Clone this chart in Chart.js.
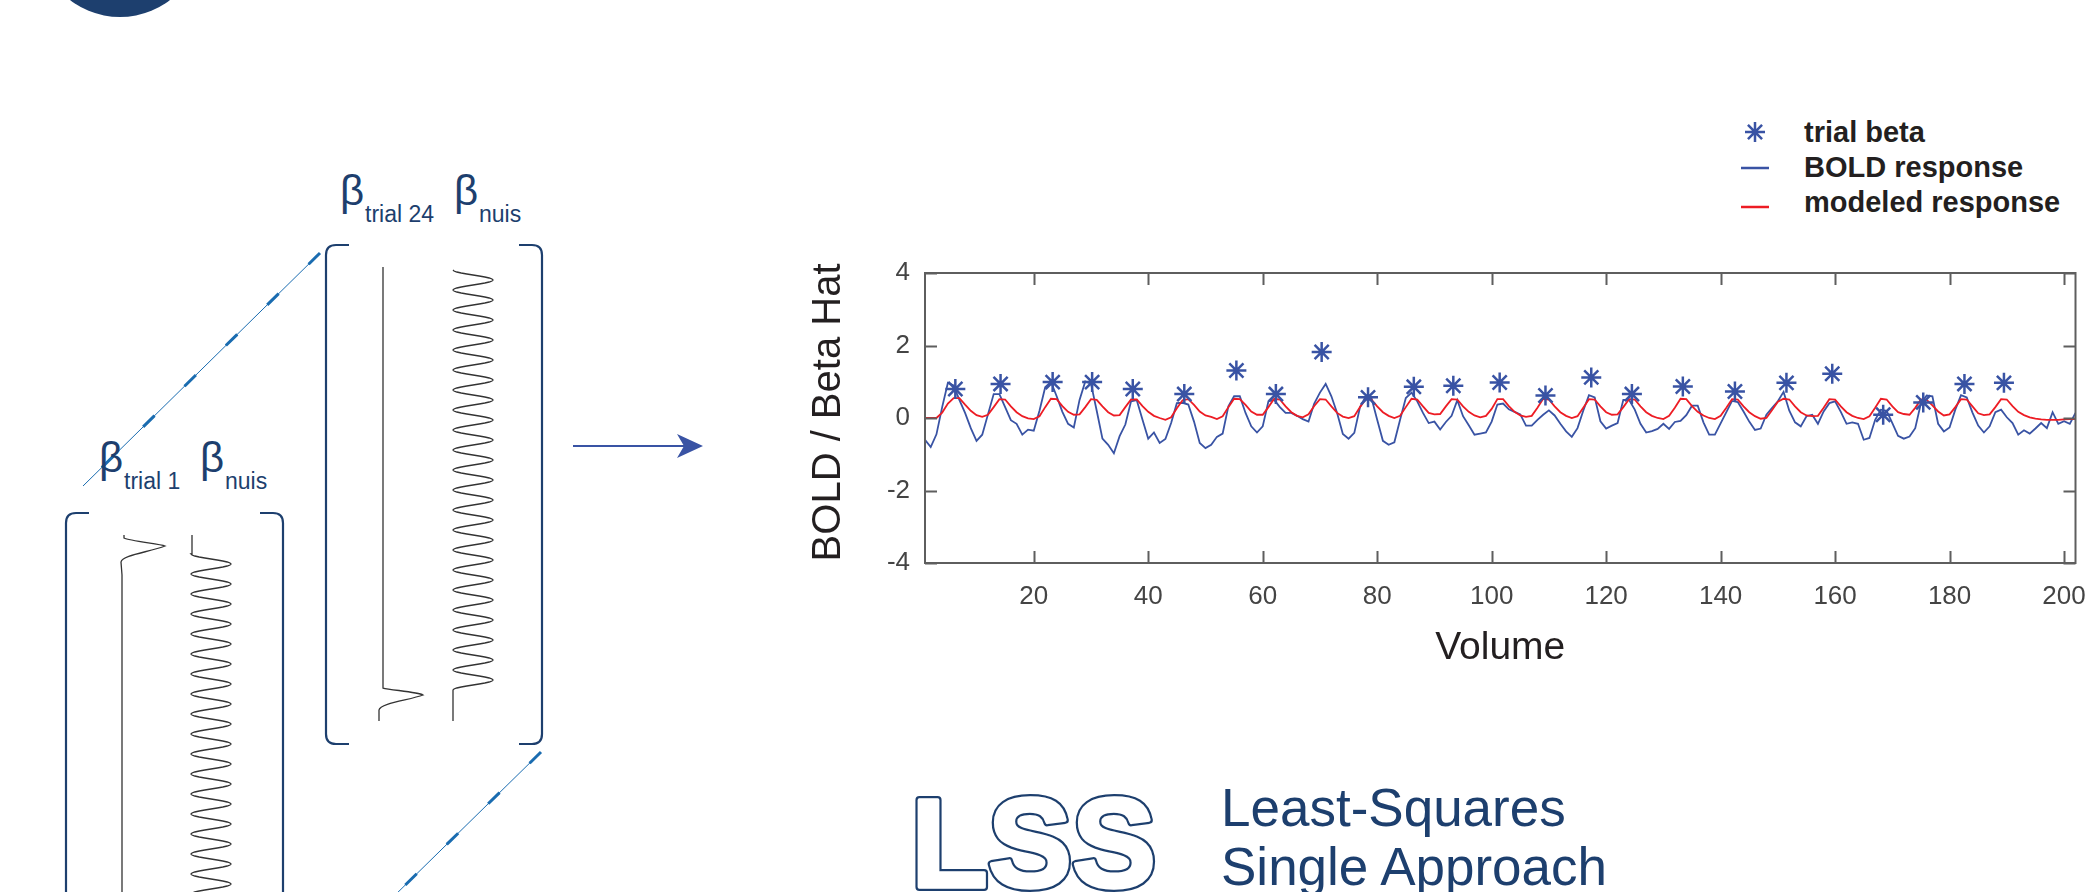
<!DOCTYPE html>
<html>
<head>
<meta charset="utf-8">
<script src="https://cdn.jsdelivr.net/npm/chart.js@4.4.1/dist/chart.umd.min.js"></script>
<style>
  html, body { margin: 0; padding: 0; background: #fff; }
  #wrap { position: relative; width: 2088px; height: 892px; overflow: hidden; }
  #deco { position: absolute; left: 0; top: 0; }
  #chart { position: absolute; left: 0; top: 0; }
</style>
</head>
<body>
<div id="wrap">
  <svg id="deco" width="2088" height="892" xmlns="http://www.w3.org/2000/svg"></svg>
  <canvas id="chart" width="2088" height="892"></canvas>
</div>
<script>
// Values
const xTicks = [20, 40, 60, 80, 100, 120, 140, 160, 180, 200];
const yTicks = [-4, -2, 0, 2, 4];

// BOLD response, one value per volume (1..202)
const boldResponse = [
  -0.60, -0.80, -0.45, 0.30, 0.97, 0.90, 0.50, 0.14, -0.28, -0.63,
  -0.46, 0.10, 0.66, 0.66, 0.30, -0.06, -0.16, -0.46, -0.32, -0.35,
  0.20, 0.85, 1.00, 0.60, 0.17, -0.16, -0.26, 0.50, 1.01, 0.95,
  0.20, -0.57, -0.74, -0.97, -0.50, -0.18, 0.46, 0.49, -0.05, -0.57,
  -0.40, -0.69, -0.58, -0.14, 0.41, 0.42, 0.37, -0.10, -0.69, -0.83,
  -0.74, -0.52, -0.43, 0.32, 0.60, 0.60, 0.14, -0.23, -0.40, -0.23,
  0.46, 0.50, 0.30, 0.14, 0.14, 0.06, -0.03, -0.10, 0.40, 0.70,
  0.94, 0.60, 0.14, -0.44, -0.57, -0.41, 0.30, 0.60, 0.55, -0.05,
  -0.63, -0.74, -0.67, -0.05, 0.55, 0.70, 0.46, 0.14, -0.14, -0.10,
  -0.32, -0.11, 0.06, 0.49, 0.05, -0.20, -0.46, -0.43, -0.40, -0.10,
  0.37, 0.40, 0.24, 0.17, 0.10, -0.21, -0.21, -0.05, 0.09, 0.21,
  0.07, -0.16, -0.37, -0.52, -0.28, 0.20, 0.63, 0.57, -0.09, -0.29,
  -0.21, -0.14, 0.50, 0.50, 0.23, -0.16, -0.40, -0.36, -0.30, -0.16,
  -0.30, -0.11, -0.08, 0.08, 0.34, 0.34, -0.12, -0.46, -0.46, -0.15,
  0.16, 0.47, 0.44, 0.18, -0.10, -0.33, -0.29, 0.09, 0.28, 0.46,
  0.72, 0.20, -0.12, -0.23, 0.05, 0.09, -0.16, 0.18, 0.41, 0.46,
  0.17, -0.16, -0.12, -0.16, -0.60, -0.55, -0.05, 0.23, 0.20, -0.14,
  -0.49, -0.57, -0.51, -0.28, 0.41, 0.62, 0.60, -0.16, -0.37, -0.26,
  0.23, 0.63, 0.57, 0.15, -0.21, -0.40, -0.23, 0.16, 0.23, 0.02,
  -0.14, -0.46, -0.34, -0.43, -0.29, -0.14, -0.28, 0.16, -0.16, -0.09,
  -0.16, 0.14
];

// modeled response, one value per volume (1..202)
const modeledResponse = [
  0.00, 0.00, 0.00, 0.15, 0.40, 0.55, 0.55, 0.37, 0.20, 0.08,
  0.03, 0.09, 0.30, 0.52, 0.51, 0.32, 0.16, 0.05, -0.01, -0.03,
  0.05, 0.30, 0.53, 0.52, 0.33, 0.17, 0.09, 0.10, 0.30, 0.52,
  0.50, 0.32, 0.16, 0.07, 0.08, 0.30, 0.51, 0.51, 0.33, 0.17,
  0.06, 0.00, -0.05, 0.02, 0.27, 0.49, 0.52, 0.36, 0.18, 0.07,
  0.03, -0.03, 0.05, 0.30, 0.53, 0.52, 0.36, 0.18, 0.09, 0.09,
  0.30, 0.53, 0.51, 0.32, 0.16, 0.06, 0.02, 0.10, 0.33, 0.52,
  0.51, 0.32, 0.14, 0.04, 0.00, 0.05, 0.30, 0.52, 0.51, 0.32,
  0.16, 0.06, 0.00, 0.06, 0.30, 0.53, 0.51, 0.32, 0.14, 0.10,
  0.11, 0.32, 0.52, 0.51, 0.32, 0.17, 0.07, 0.02, 0.06, 0.25,
  0.52, 0.52, 0.33, 0.17, 0.07, 0.03, 0.06, 0.28, 0.53, 0.51,
  0.32, 0.16, 0.06, 0.00, 0.05, 0.28, 0.52, 0.51, 0.32, 0.16,
  0.09, 0.10, 0.30, 0.52, 0.51, 0.32, 0.16, 0.06, 0.00, -0.03,
  0.06, 0.28, 0.53, 0.52, 0.33, 0.17, 0.07, 0.00, -0.03, 0.06,
  0.28, 0.52, 0.51, 0.32, 0.16, 0.05, -0.02, 0.00, 0.22, 0.45,
  0.53, 0.51, 0.32, 0.16, 0.07, 0.05, 0.06, 0.28, 0.52, 0.51,
  0.32, 0.16, 0.06, 0.00, -0.03, 0.05, 0.28, 0.53, 0.51, 0.32,
  0.16, 0.11, 0.09, 0.28, 0.51, 0.50, 0.35, 0.18, 0.07, 0.10,
  0.30, 0.52, 0.51, 0.32, 0.13, 0.08, 0.10, 0.30, 0.52, 0.51,
  0.33, 0.17, 0.08, 0.02, -0.02, -0.04, -0.05, -0.05, -0.05, -0.04,
  -0.03, -0.03
];

// trial onsets (volume) and their beta estimates
const trialVolumes = [6.3, 14.2, 23.3, 30.2, 37.3, 46.3, 55.4, 62.3, 70.3, 78.4, 86.4, 93.3,
                      101.4, 109.4, 117.4, 124.5, 133.4, 142.5, 151.5, 159.5, 168.4, 175.4, 182.6, 189.5];
const trialBetas = [0.80, 0.94, 0.99, 0.99, 0.80, 0.66, 1.31, 0.66, 1.82, 0.57, 0.86, 0.89,
                    0.98, 0.62, 1.12, 0.66, 0.87, 0.73, 0.97, 1.22, 0.09, 0.43, 0.94, 0.97];

const seriesLabels = ['trial beta', 'BOLD response', 'modeled response'];
const blue = '#3953a4';
const red = '#ed1c24';
const navy = '#1d3f6e';
const font = "'Liberation Sans', Arial, Helvetica, sans-serif";

const volumes = boldResponse.map((_, i) => i + 1);

// box and inward ticks like the original axes
const boxPlugin = {
  id: 'box',
  afterDraw(chart) {
    const ctx = chart.ctx;
    const {left, right, top, bottom} = chart.chartArea;
    const xs = chart.scales.x, ys = chart.scales.y;
    ctx.save();
    ctx.strokeStyle = '#5e5e5e';
    ctx.lineWidth = 2;
    ctx.strokeRect(left, top, right - left, bottom - top);
    ctx.beginPath();
    xTicks.forEach(v => {
      const px = Math.round(xs.getPixelForValue(v)) + 0.5;
      ctx.moveTo(px, bottom); ctx.lineTo(px, bottom - 12);
      ctx.moveTo(px, top); ctx.lineTo(px, top + 12);
    });
    yTicks.forEach(v => {
      const py = Math.round(ys.getPixelForValue(v)) + 0.5;
      ctx.moveTo(left, py); ctx.lineTo(left + 12, py);
      ctx.moveTo(right, py); ctx.lineTo(right - 12, py);
    });
    ctx.stroke();
    ctx.restore();
  }
};

const chart = new Chart(document.getElementById('chart'), {
  type: 'line',
  data: {
    datasets: [
      {
        label: seriesLabels[0],
        type: 'scatter',
        data: trialVolumes.map((v, i) => ({x: v, y: trialBetas[i]})),
        showLine: false,
        pointStyle: 'star',
        pointRadius: 10,
        pointBorderWidth: 2.5,
        borderColor: blue,
        backgroundColor: blue,
        order: 0
      },
      {
        label: seriesLabels[1],
        data: volumes.map((v, i) => ({x: v, y: boldResponse[i]})),
        borderColor: blue,
        borderWidth: 1.8,
        pointRadius: 0,
        tension: 0,
        order: 2
      },
      {
        label: seriesLabels[2],
        data: volumes.map((v, i) => ({x: v, y: modeledResponse[i]})),
        borderColor: red,
        borderWidth: 1.8,
        pointRadius: 0,
        tension: 0,
        order: 1
      }
    ]
  },
  options: {
    responsive: false,
    animation: false,
    layout: {padding: {left: 805, top: 273, right: 12, bottom: 220}},
    plugins: {legend: {display: false}, tooltip: {enabled: false}},
    scales: {
      x: {
        type: 'linear', min: 1, max: 202,
        afterBuildTicks: s => { s.ticks = xTicks.map(v => ({value: v})); },
        afterFit: s => { s.height = 109; s.paddingLeft = 0; s.paddingRight = 0; },
        grid: {display: false, drawTicks: false},
        border: {display: false},
        ticks: {color: '#444', font: {family: font, size: 26}, padding: 18, maxRotation: 0, autoSkip: false},
        title: {display: true, text: 'Volume', color: '#231f20', font: {family: font, size: 39}, padding: 0}
      },
      y: {
        type: 'linear', min: -4, max: 4,
        afterBuildTicks: s => { s.ticks = yTicks.map(v => ({value: v})); },
        afterFit: s => { s.width = 120; s.paddingTop = 0; s.paddingBottom = 0; },
        grid: {display: false, drawTicks: false},
        border: {display: false},
        ticks: {color: '#444', font: {family: font, size: 26}, padding: 15},
        title: {display: true, text: ' BOLD / Beta Hat', color: '#231f20', font: {family: font, size: 40}, padding: 0}
      }
    }
  },
  plugins: [boxPlugin]
});

// ---- diagram around the chart (svg) ----
const svg = document.getElementById('deco');
const NS = 'http://www.w3.org/2000/svg';
function add(tag, attrs, text) {
  const el = document.createElementNS(NS, tag);
  for (const k in attrs) el.setAttribute(k, attrs[k]);
  if (text !== undefined) el.textContent = text;
  svg.appendChild(el);
  return el;
}
function wave(cx, amp, y0, y1, period) {
  let d = '';
  for (let y = y0; y <= y1; y += 1) {
    const x = cx - amp * Math.cos(2 * Math.PI * (y - y0) / period);
    d += (d ? ' L' : 'M') + x.toFixed(1) + ',' + y;
  }
  return d;
}

add('circle', {cx: 120, cy: -65, r: 82, fill: navy});

// perspective lines
[[320, 253, 83, 486], [541, 752, 390, 900]].forEach(([x1, y1, x2, y2]) => {
  add('line', {x1, y1, x2, y2, stroke: '#1a6cb0', 'stroke-width': 1});
  add('line', {x1, y1, x2, y2, stroke: '#1a6cb0', 'stroke-width': 3, 'stroke-dasharray': '16 42'});
});

// brackets
const bs = {fill: 'none', stroke: navy, 'stroke-width': 2.2};
add('path', Object.assign({d: 'M349,245 L336,245 Q326,245 326,255 L326,734 Q326,744 336,744 L349,744'}, bs));
add('path', Object.assign({d: 'M519,245 L532,245 Q542,245 542,255 L542,734 Q542,744 532,744 L519,744'}, bs));
add('path', Object.assign({d: 'M89,513 L76,513 Q66,513 66,523 L66,900'}, bs));
add('path', Object.assign({d: 'M260,513 L273,513 Q283,513 283,523 L283,900'}, bs));

// regressors
const rs = {fill: 'none', stroke: '#333', 'stroke-width': 1.3};
add('path', Object.assign({d: 'M383,267 L383,688 C390,690 418,692 423,695 C410,700 380,703 379,710 L379,721', stroke: '#555'}, rs));
add('path', Object.assign({d: wave(473, 20, 270, 690, 20) + ' C453,700 453,705 453,721'}, rs));
add('path', Object.assign({d: 'M124,535 L124,538 C130,541 160,544 165,546 C150,552 122,555 121,562 L122,575 L122,900', stroke: '#555'}, rs));
add('path', Object.assign({d: 'M192,535 L192,554 ' + wave(211, 20, 554, 900, 20).replace('M', 'L')}, rs));

// beta labels
function betaLabel(x, y, sub1, x2, sub2) {
  add('text', {x, y, 'font-family': font, 'font-size': 42, fill: navy}, 'β');
  add('text', {x: x + 25, y: y + 17, 'font-family': font, 'font-size': 23, fill: navy}, sub1);
  add('text', {x: x2, y, 'font-family': font, 'font-size': 42, fill: navy}, 'β');
  add('text', {x: x2 + 25, y: y + 17, 'font-family': font, 'font-size': 23, fill: navy}, sub2);
}
betaLabel(340, 205, 'trial 24', 454, 'nuis');
betaLabel(99, 472, 'trial 1', 200, 'nuis');

// arrow
add('line', {x1: 573, y1: 446, x2: 686, y2: 446, stroke: blue, 'stroke-width': 2});
add('path', {d: 'M703,446 L677,434 L684,446 L677,458 Z', fill: blue});

// LSS title (outlined, slightly heavier glyphs)
const lssAttrs = {x: 911, y: 887, 'font-family': font, 'font-weight': 'bold', 'font-size': 126};
add('text', Object.assign({fill: navy, stroke: navy, 'stroke-width': 8, 'stroke-linejoin': 'round'}, lssAttrs), 'LSS');
add('text', Object.assign({fill: '#fff', stroke: '#fff', 'stroke-width': 3.5, 'stroke-linejoin': 'round'}, lssAttrs), 'LSS');
add('text', {x: 1221, y: 826, 'font-family': font, 'font-size': 53, fill: navy}, 'Least-Squares');
add('text', {x: 1221, y: 885, 'font-family': font, 'font-size': 53, fill: navy}, 'Single Approach');

// legend built from the chart datasets
chart.data.datasets.forEach((ds, i) => {
  const cy = [132, 168, 207][i];
  if (ds.pointStyle === 'star') {
    const r = 10, d = r * Math.SQRT1_2;
    const p = `M${1755 - r},${cy} L${1755 + r},${cy} M1755,${cy - r} L1755,${cy + r} ` +
              `M${1755 - d},${cy - d} L${1755 + d},${cy + d} M${1755 - d},${cy + d} L${1755 + d},${cy - d}`;
    add('path', {d: p, stroke: ds.borderColor, 'stroke-width': 2.5});
  } else {
    add('line', {x1: 1741, y1: cy, x2: 1769, y2: cy, stroke: ds.borderColor, 'stroke-width': 2.5});
  }
  add('text', {x: 1804, y: [142, 177, 212][i], 'font-family': font, 'font-weight': 'bold',
               'font-size': 29, fill: '#231f20'}, ds.label);
});
</script>
</body>
</html>
